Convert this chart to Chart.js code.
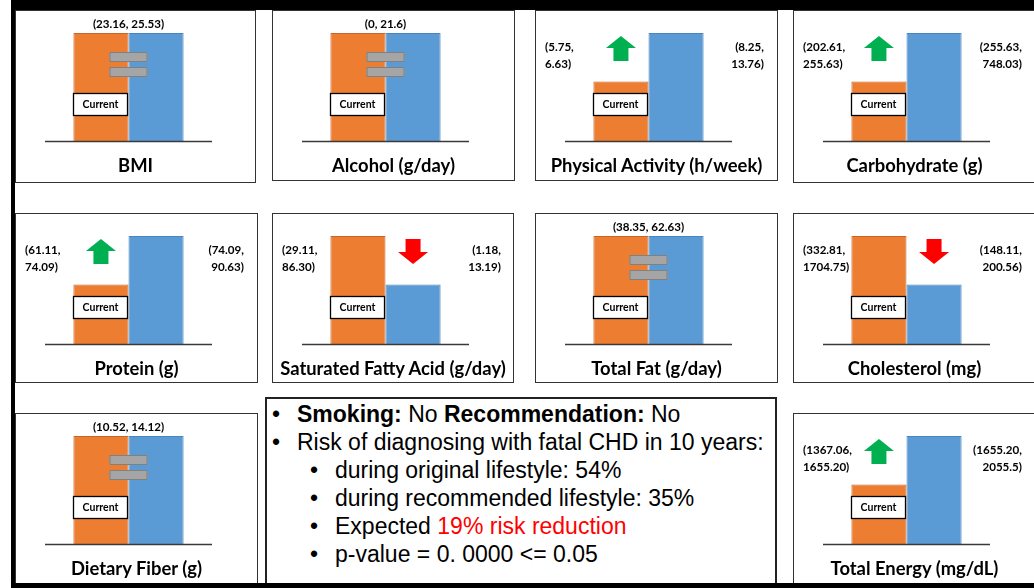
<!DOCTYPE html>
<html>
<head>
<meta charset="utf-8">
<script src="https://cdn.jsdelivr.net/npm/chart.js@4.4.1/dist/chart.umd.min.js"></script>
<style>
  body { margin: 0; background: #fff; width: 1034px; height: 588px; overflow: hidden; position: relative; font-family: Lato, 'Open Sans', sans-serif; }
  .frame { position: absolute; background: #000; z-index: 5; }
  .panel { position: absolute; box-sizing: border-box; border: 1px solid #333; background: #fff; }
  .panel canvas { position: absolute; left: 0; top: 0; }
  .ptitle { position: absolute; left: 0; right: 0; text-align: center; font-weight: 700; font-size: 18.4px; line-height: 20px; color: #000; white-space: nowrap; }
  .rng { position: absolute; font-weight: 700; font-size: 11.6px; line-height: 17px; color: #000; white-space: nowrap; }
  .note { position: absolute; left: 265px; top: 397px; width: 512px; height: 191px; box-sizing: border-box; border: 2px solid #222; background: #fff;
          font-family: 'Liberation Sans', Arial, sans-serif; font-size: 23px; line-height: 28px; color: #000; }
  .note div { position: absolute; white-space: nowrap; }
</style>
</head>
<body>
<div class="frame" style="left:11px;top:0;width:4px;height:588px"></div>
<div class="frame" style="left:11px;top:0;width:1023px;height:10px"></div>
<div class="frame" style="left:11px;top:583px;width:1023px;height:5px"></div>

<div class="note">
  <div style="left:5px;top:1px"><span>•</span><span style="position:absolute;left:25px"><b>Smoking:</b> No <b>Recommendation:</b> No</span></div>
  <div style="left:5px;top:29px"><span>•</span><span style="position:absolute;left:25px">Risk of diagnosing with fatal CHD in 10 years:</span></div>
  <div style="left:43px;top:57px"><span>•</span><span style="position:absolute;left:25px">during original lifestyle: 54%</span></div>
  <div style="left:43px;top:85px"><span>•</span><span style="position:absolute;left:25px">during recommended lifestyle: 35%</span></div>
  <div style="left:43px;top:113px"><span>•</span><span style="position:absolute;left:25px">Expected <span style="color:#ff0000">19% risk reduction</span></span></div>
  <div style="left:43px;top:141px"><span>•</span><span style="position:absolute;left:25px">p-value = 0. 0000 &lt;= 0.05</span></div>
</div>

<script>
// panel data
const panelTitles = ['BMI', 'Alcohol (g/day)', 'Physical Activity (h/week)', 'Carbohydrate (g)',
  'Protein (g)', 'Saturated Fatty Acid (g/day)', 'Total Fat (g/day)', 'Cholesterol (mg)',
  'Dietary Fiber (g)', 'Total Energy (mg/dL)'];
// bar heights as drawn (relative level, tallest bar = 100)
const currentLevel     = [100, 100, 55, 55, 55, 100, 100, 100, 100, 55];
const recommendedLevel = [100, 100, 100, 100, 100, 55, 100, 55, 100, 100];
const currentRange     = ['23.16, 25.53', '0, 21.6', '5.75, 6.63', '202.61, 255.63', '61.11, 74.09',
  '29.11, 86.30', '38.35, 62.63', '332.81, 1704.75', '10.52, 14.12', '1367.06, 1655.20'];
const recommendedRange = ['23.16, 25.53', '0, 21.6', '8.25, 13.76', '255.63, 748.03', '74.09, 90.63',
  '1.18, 13.19', '38.35, 62.63', '148.11, 200.56', '10.52, 14.12', '1655.20, 2055.5'];

// layout: left, top, width, height of each panel box
const panelBoxes = [
  [15, 10, 241, 173], [272, 10, 243, 171], [535, 10, 243, 171], [793, 10, 243, 173],
  [15, 213, 243, 170], [272, 213, 242, 170], [535, 213, 243, 170], [793, 213, 243, 170],
  [15, 413, 243, 172], [793, 413, 243, 172]
];

const ORANGE = '#ed7d31', BLUE = '#5b9bd5';

function drawArrow(ctx, cx, top, up, color) {
  const hw = 15, sw = 7.5, hh = 12, h = 25;
  ctx.beginPath();
  if (up) {
    ctx.moveTo(cx, top);
    ctx.lineTo(cx + hw, top + hh);
    ctx.lineTo(cx + sw, top + hh);
    ctx.lineTo(cx + sw, top + h);
    ctx.lineTo(cx - sw, top + h);
    ctx.lineTo(cx - sw, top + hh);
    ctx.lineTo(cx - hw, top + hh);
  } else {
    ctx.moveTo(cx - sw, top);
    ctx.lineTo(cx + sw, top);
    ctx.lineTo(cx + sw, top + h - hh);
    ctx.lineTo(cx + hw, top + h - hh);
    ctx.lineTo(cx, top + h);
    ctx.lineTo(cx - hw, top + h - hh);
    ctx.lineTo(cx - sw, top + h - hh);
  }
  ctx.closePath();
  ctx.fillStyle = color;
  ctx.fill();
}

// baseline, "=" marks, arrows and the Current box
const overlayPlugin = {
  id: 'overlay',
  afterDatasetsDraw(chart) {
    const ctx = chart.ctx;
    const area = chart.chartArea;
    const cur = chart.getDatasetMeta(0).data[0];
    const rec = chart.getDatasetMeta(1).data[0];
    const cv = chart.data.datasets[0].data[0];
    const rv = chart.data.datasets[1].data[0];
    ctx.save();

    // baseline
    ctx.strokeStyle = '#3a3a3a';
    ctx.lineWidth = 1.5;
    ctx.beginPath();
    ctx.moveTo(area.left, Math.round(area.bottom) + 0.5);
    ctx.lineTo(area.right, Math.round(area.bottom) + 0.5);
    ctx.stroke();

    const split = cur.x + cur.width / 2;
    if (cv === rv) {
      ctx.fillStyle = '#a5a5a5';
      ctx.strokeStyle = '#808080';
      ctx.lineWidth = 1;
      [19, 34].forEach(dy => {
        ctx.fillRect(split - 19, area.top + dy, 38, 10);
        ctx.strokeRect(split - 18.5, area.top + dy + 0.5, 37, 9);
      });
    } else if (rv > cv) {
      drawArrow(ctx, cur.x, area.top + 3, true, '#00b050');
    } else {
      drawArrow(ctx, rec.x, area.top + 3, false, '#ff0000');
    }

    // Current box over the orange bar
    const bx = Math.round(cur.x - cur.width / 2) + 0.5;
    const by = area.top + 60.5;
    const bw = Math.round(cur.width) - 1;
    ctx.fillStyle = '#fff';
    ctx.fillRect(bx, by, bw, 22);
    ctx.strokeStyle = '#000';
    ctx.lineWidth = 1.3;
    ctx.strokeRect(bx, by, bw, 22);
    ctx.fillStyle = '#000';
    ctx.font = 'bold 10.5px Lato, sans-serif';
    ctx.textAlign = 'center';
    ctx.textBaseline = 'middle';
    ctx.fillText('Current', bx + bw / 2, by + 11);
    ctx.restore();
  }
};

panelTitles.forEach((title, i) => {
  const [left, top, w, h] = panelBoxes[i];
  const panel = document.createElement('div');
  panel.className = 'panel';
  panel.style.cssText = `left:${left}px;top:${top}px;width:${w}px;height:${h}px`;
  const canvas = document.createElement('canvas');
  canvas.width = w - 2;
  canvas.height = h - 2;
  panel.appendChild(canvas);
  document.body.appendChild(panel);

  const chart = new Chart(canvas.getContext('2d'), {
    type: 'bar',
    data: {
      labels: [title],
      datasets: [
        { label: 'Current', data: [currentLevel[i]], backgroundColor: ORANGE, borderColor: '#c8652a', borderWidth: 1 },
        { label: 'Recommended', data: [recommendedLevel[i]], backgroundColor: BLUE, borderColor: '#4a86bd', borderWidth: 1 }
      ]
    },
    plugins: [overlayPlugin],
    options: {
      responsive: false,
      animation: false,
      devicePixelRatio: 1,
      layout: { padding: { left: 29, right: w - 2 - 29 - 167, top: 22, bottom: h - 2 - 130 } },
      datasets: { bar: { categoryPercentage: 0.66, barPercentage: 1 } },
      plugins: { legend: { display: false }, tooltip: { enabled: false } },
      scales: {
        x: { display: false },
        y: { display: false, min: 0, max: 100 }
      }
    }
  });

  // title under the bars
  const t = document.createElement('div');
  t.className = 'ptitle';
  t.style.top = (chart.chartArea.bottom + 14) + 'px';
  t.textContent = title;
  panel.appendChild(t);

  // range labels
  const midX = (chart.chartArea.left + chart.chartArea.right) / 2;
  if (currentLevel[i] === recommendedLevel[i]) {
    const l = document.createElement('div');
    l.className = 'rng';
    l.style.cssText = `left:${midX - 60}px;width:120px;text-align:center;top:${chart.chartArea.top - 18}px`;
    l.textContent = `(${currentRange[i]})`;
    panel.appendChild(l);
  } else {
    const [a, b] = currentRange[i].split(', ');
    const [c, d] = recommendedRange[i].split(', ');
    const l = document.createElement('div');
    l.className = 'rng';
    l.style.cssText = `left:9px;top:${chart.chartArea.top + 5}px`;
    l.innerHTML = `(${a},<br>${b})`;
    panel.appendChild(l);
    const r = document.createElement('div');
    r.className = 'rng';
    r.style.cssText = `right:${w - 230}px;top:${chart.chartArea.top + 5}px;text-align:right`;
    r.innerHTML = `(${c},<br>${d})`;
    panel.appendChild(r);
  }
});
</script>
</body>
</html>
